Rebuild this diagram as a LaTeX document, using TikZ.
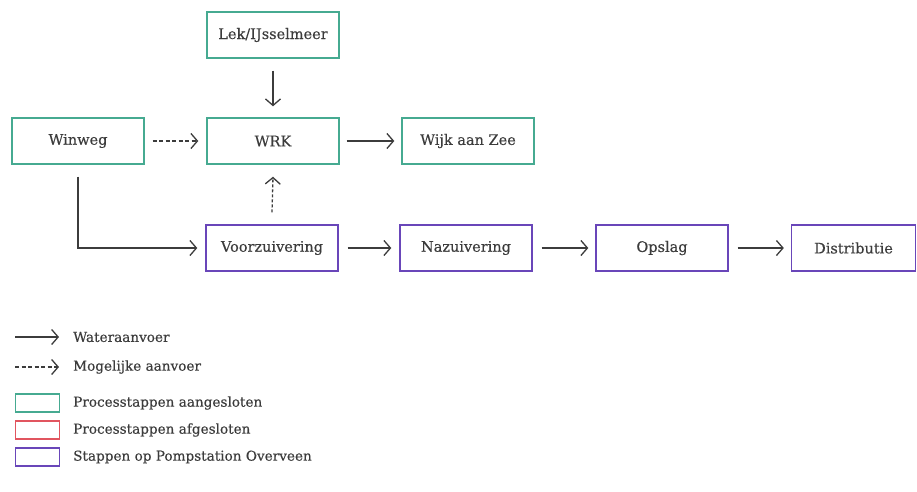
\documentclass[tikz,border=0pt]{standalone}
\usepackage{fontspec}
\newfontfamily\diafont{DejaVu Serif}[FakeBold=0.35]
\usetikzlibrary{arrows.meta}
\definecolor{tealc}{RGB}{70,170,145}
\definecolor{purc}{RGB}{105,70,185}
\definecolor{redc}{RGB}{225,85,95}
\definecolor{ink}{RGB}{60,60,60}
\tikzset{
  box/.style={draw, line width=1.4pt, minimum width=132pt, minimum height=46pt, inner sep=0pt, font=\diafont\fontsize{14.5}{16}\selectfont, text=ink},
  tbox/.style={box, draw=tealc},
  pbox/.style={box, draw=purc},
  flow/.style={draw=ink, line width=1.3pt, -{Straight Barb[length=6.5pt,width=15pt,line width=1.3pt]}},
  maybe/.style={flow, dash pattern=on 4pt off 2.5pt},
  lbox/.style={draw, line width=1.4pt, minimum width=44pt, minimum height=18pt, inner sep=0pt},
  ltext/.style={anchor=west, font=\diafont\fontsize{13.6}{15}\selectfont, text=ink, inner sep=0pt}
}
\begin{document}
\begin{tikzpicture}[x=1pt,y=-1pt]
\useasboundingbox (0,0) rectangle (917,491);
\node[tbox] (lek) at (273,35) {Lek/IJsselmeer};
\node[tbox] (win) at (78,141) {Winweg};
\node[tbox] (wrk) at (273,141) {WRK};
\node[tbox] (wijk) at (468,141) {Wijk aan Zee};
\node[pbox] (voor) at (272,248) {Voorzuivering};
\node[pbox] (naz) at (466,248) {Nazuivering};
\node[pbox] (ops) at (662,248) {Opslag};
\node[pbox, minimum width=124pt] (dis) at (853.5,248) {Distributie};

\draw[flow] ([yshift=-12pt]lek.south) -- ([yshift=11pt]wrk.north);
\draw[maybe] ([xshift=8pt]win.east) -- ([xshift=-8pt]wrk.west);
\draw[flow] ([xshift=7pt]wrk.east) -- ([xshift=-7pt]wijk.west);
\draw[maybe, dash pattern=on 3pt off 2pt] ([yshift=12pt]voor.north) -- ([yshift=-12pt]wrk.south);
\draw[flow] ([yshift=-12pt]win.south) |- ([xshift=-8pt]voor.west);
\draw[flow] ([xshift=9pt]voor.east) -- ([xshift=-8pt]naz.west);
\draw[flow] ([xshift=9pt]naz.east) -- ([xshift=-7pt]ops.west);
\draw[flow] ([xshift=9pt]ops.east) -- ([xshift=-7pt]dis.west);

\coordinate (a1s) at (15,337); \coordinate (a1e) at (59,337);
\coordinate (a2s) at (15,367); \coordinate (a2e) at (59,367);
\draw[flow] (a1s) -- (a1e);
\draw[maybe] (a2s) -- (a2e);
\node[ltext] (t1) at (73,337) {Wateraanvoer};
\node[ltext] (t2) at (73,367) {Mogelijke aanvoer};
\node[lbox, draw=tealc] (b3) at (37.5,403) {};
\node[lbox, draw=redc] (b4) at (37.5,430) {};
\node[lbox, draw=purc] (b5) at (37.5,457) {};
\node[ltext] (t3) at (73,403) {Processtappen aangesloten};
\node[ltext] (t4) at (73,430) {Processtappen afgesloten};
\node[ltext] (t5) at (73,457) {Stappen op Pompstation Overveen};
\end{tikzpicture}
\end{document}
